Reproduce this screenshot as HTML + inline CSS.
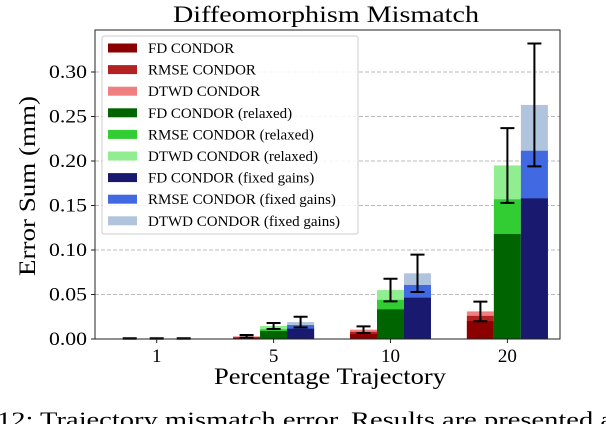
<!DOCTYPE html>
<html><head><meta charset="utf-8"><style>
body{margin:0;background:#fff;}
svg text{font-family:"Liberation Serif","DejaVu Serif",serif;}
</style></head><body>
<svg width="606" height="424" viewBox="0 0 606 424">
<text x="326" y="22" font-size="23" text-anchor="middle" textLength="306" lengthAdjust="spacingAndGlyphs">Diffeomorphism Mismatch</text>
<g id="grid"></g>
<g id="bars"></g>
<g id="errs"></g>
<rect x="95" y="30" width="465" height="309" fill="none" stroke="#222" stroke-width="1"/>
<g id="yticks"></g>
<g id="xticks"></g>
<text transform="translate(35,186) rotate(-90)" font-size="23" text-anchor="middle" textLength="180" lengthAdjust="spacingAndGlyphs">Error Sum (mm)</text>
<text x="330" y="384" font-size="23" text-anchor="middle" textLength="232" lengthAdjust="spacingAndGlyphs">Percentage Trajectory</text>
<g id="legend">
<rect x="102" y="36" width="256" height="198" fill="#fff" fill-opacity="0.85" stroke="#ccc" rx="2"/>
</g>
<text x="-3" y="427" font-size="22" textLength="616" lengthAdjust="spacingAndGlyphs">12: Trajectory mismatch error. Results are presented a</text>
</svg>
<script>
const categories=["1","5","10","20"];
const yTicks=[0,0.05,0.10,0.15,0.20,0.25,0.30];
const seriesNames=["FD CONDOR","RMSE CONDOR","DTWD CONDOR","FD CONDOR (relaxed)","RMSE CONDOR (relaxed)","DTWD CONDOR (relaxed)","FD CONDOR (fixed gains)","RMSE CONDOR (fixed gains)","DTWD CONDOR (fixed gains)"];
const colors=["#8b0000","#b22222","#f08080","#006400","#32cd32","#90ee90","#191970","#4169e1","#b0c4de"];
// totals per category
const fdBase=[0.0004,0.0015,0.0056,0.020];
const rmseBase=[0.0005,0.002,0.008,0.026];
const dtwdBase=[0.0006,0.003,0.0105,0.031];
const fdRelaxed=[0.0004,0.009,0.0333,0.118];
const rmseRelaxed=[0.0005,0.011,0.044,0.157];
const dtwdRelaxed=[0.0006,0.0146,0.055,0.195];
const fdFixed=[0.0004,0.0116,0.0464,0.158];
const rmseFixed=[0.0005,0.0157,0.0607,0.2115];
const dtwdFixed=[0.0006,0.019,0.0738,0.263];
const errBase=[0.0003,0.0015,0.0037,0.011];
const errRelaxed=[0.0003,0.0034,0.0127,0.042];
const errFixed=[0.0003,0.006,0.021,0.069];

const NS="http://www.w3.org/2000/svg";
const y=v=>339-v*890;
const xc=i=>156.7+i*116.9;
const bw=27;
function mk(tag,attrs,parent){const e=document.createElementNS(NS,tag);for(const k in attrs)e.setAttribute(k,attrs[k]);document.getElementById(parent).appendChild(e);return e;}
yTicks.forEach(t=>{
  if(t>0){const g=mk('line',{x1:95,x2:560,y1:y(t),y2:y(t),stroke:'#bbb','stroke-dasharray':'4,2','stroke-width':1},'grid');
  
  }
  const tk=mk('line',{x1:91,x2:95,y1:y(t),y2:y(t),stroke:'#222'},'yticks');
  
  
  const tx=mk('text',{x:87,y:y(t)+6,'font-size':19,'text-anchor':'end',textLength:38,lengthAdjust:'spacingAndGlyphs'},'yticks');
  tx.textContent=t.toFixed(2);
  
  
});
categories.forEach((c,i)=>{
  const tk=mk('line',{x1:xc(i),x2:xc(i),y1:339,y2:343,stroke:'#222'},'xticks');
  
  
  const tx=mk('text',{x:xc(i),y:362,'font-size':19,'text-anchor':'middle'},'xticks');
  tx.textContent=c;
  
  
});
const groups=[[dtwdBase,rmseBase,fdBase,errBase,[2,1,0]],[dtwdRelaxed,rmseRelaxed,fdRelaxed,errRelaxed,[5,4,3]],[dtwdFixed,rmseFixed,fdFixed,errFixed,[8,7,6]]];
groups.forEach((g,gi)=>{
  categories.forEach((c,i)=>{
    const x0=xc(i)+(gi-1)*bw-bw/2;
    for(let s=0;s<3;s++){
      const v=g[s][i];
      const r=mk('rect',{x:x0,y:y(v),width:bw,height:339-y(v),fill:colors[g[4][s]]},'bars');
      
      
    }
    const top=g[0][i],e=g[3][i],cx=x0+bw/2;
    const eg=mk('path',{d:`M${cx},${y(top-e)}V${y(top+e)}M${cx-7},${y(top-e)}H${cx+7}M${cx-7},${y(top+e)}H${cx+7}`,stroke:'#000','stroke-width':2,fill:'none'},'errs');
    
    
  });
});
seriesNames.forEach((n,i)=>{
  const yy=48+i*21.6;
  const r=mk('rect',{x:108,y:yy-4.5,width:29,height:9,fill:colors[i]},'legend');
  
  
  const t=mk('text',{x:148,y:yy+5,'font-size':15},'legend');
  t.textContent=n;
  
  
});
</script>
</body></html>
